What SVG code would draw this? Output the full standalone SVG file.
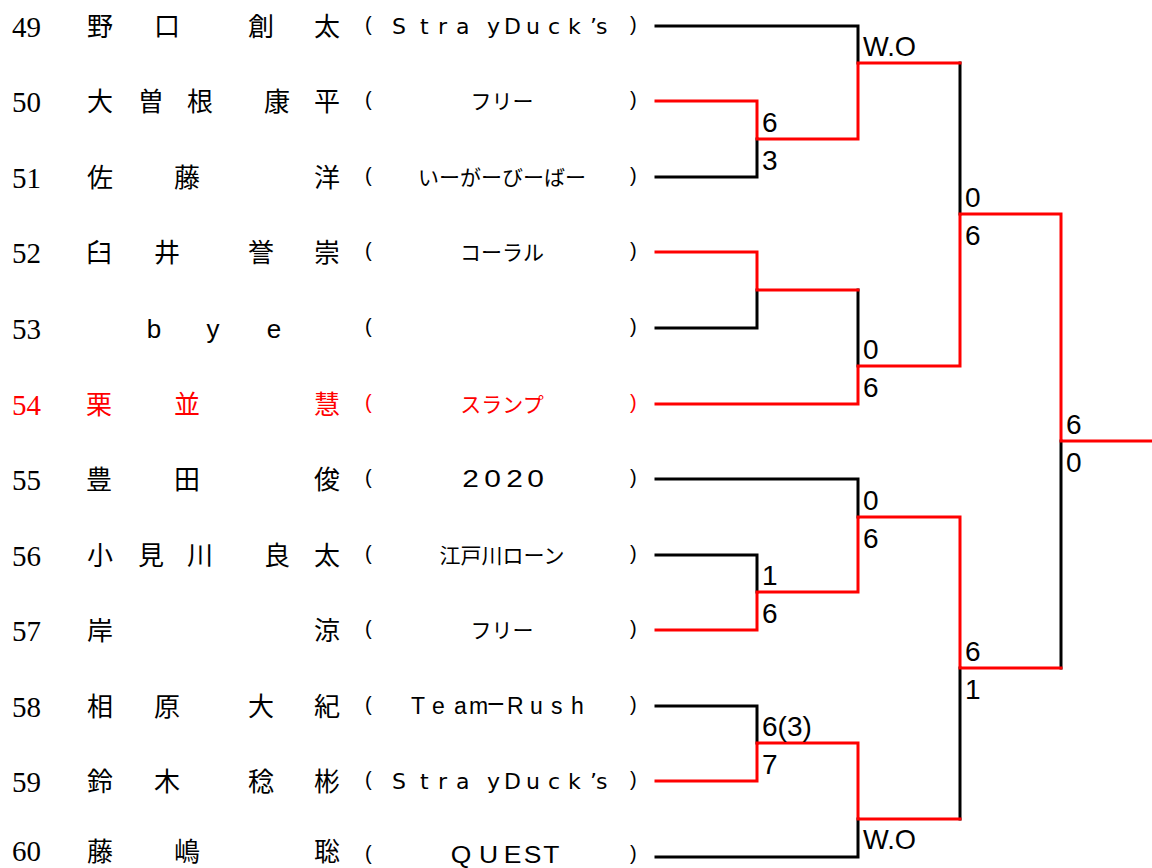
<svg xmlns="http://www.w3.org/2000/svg" width="1152" height="868" viewBox="0 0 1152 868">
<style>
.num{font-family:"Liberation Serif","Times New Roman",serif;font-size:29px;fill:#000}
.nm{font-family:"Noto Sans CJK JP","Noto Sans CJK SC",sans-serif;font-size:26px;fill:#000;text-anchor:middle}
.lat{font-family:"Liberation Sans",Arial,sans-serif;font-size:26px;fill:#000;text-anchor:middle}
.par{font-family:"Liberation Sans",Arial,sans-serif;font-size:20px;fill:#000}
.tm{font-family:"DejaVu Sans",Verdana,sans-serif;font-size:22px;fill:#000}
.tn{font-family:"Liberation Sans",Arial,sans-serif;font-size:23px;fill:#000}
.tk{font-family:"Noto Sans CJK JP","Noto Sans CJK SC",sans-serif;font-size:21px;fill:#000;text-anchor:middle}
.red .num,.red .nm,.red .par,.red .tk{fill:#ff0000}
.sc{font-family:"Liberation Sans",Arial,sans-serif;font-size:28px;fill:#000}
.bk{fill:none;stroke:#000;stroke-width:3;stroke-linecap:square;stroke-linejoin:miter}
.rd{fill:none;stroke:#ff0000;stroke-width:3;stroke-linecap:square;stroke-linejoin:miter}
</style>

<g id="p49">
<text class="num" x="12" y="37">49</text>
<text class="nm" x="100" y="36">野</text><text class="nm" x="167" y="36">口</text><text class="nm" x="261" y="36">創</text><text class="nm" x="327" y="36">太</text>
<text class="par" x="365" y="31">(</text><text class="tm" x="392 420 438 456 487 503 504 526 548 568 590 596" y="34">Stray Duck’s</text><text class="par" x="630" y="31">)</text>
</g>
<g id="p50">
<text class="num" x="12" y="112">50</text>
<text class="nm" x="100" y="111">大</text><text class="nm" x="151" y="111">曽</text><text class="nm" x="200" y="111">根</text><text class="nm" x="277" y="111">康</text><text class="nm" x="327" y="111">平</text>
<text class="par" x="365" y="106">(</text><text class="tk" x="502" y="109">フリー</text><text class="par" x="630" y="106">)</text>
</g>
<g id="p51">
<text class="num" x="12" y="188">51</text>
<text class="nm" x="100" y="187">佐</text><text class="nm" x="187" y="187">藤</text><text class="nm" x="327" y="187">洋</text>
<text class="par" x="365" y="182">(</text><text class="tk" x="502" y="185">いーがーびーばー</text><text class="par" x="630" y="182">)</text>
</g>
<g id="p52">
<text class="num" x="12" y="263">52</text>
<text class="nm" x="99" y="262">臼</text><text class="nm" x="167" y="262">井</text><text class="nm" x="261" y="262">誉</text><text class="nm" x="327" y="262">崇</text>
<text class="par" x="365" y="257">(</text><text class="tk" x="502" y="260">コーラル</text><text class="par" x="630" y="257">)</text>
</g>
<g id="p53">
<text class="num" x="12" y="339">53</text>
<text class="lat" x="154" y="338">b</text><text class="lat" x="213" y="338">y</text><text class="lat" x="274" y="338">e</text>
<text class="par" x="365" y="333">(</text><text class="par" x="630" y="333">)</text>
</g>
<g id="p54" class="red">
<text class="num" x="12" y="415">54</text>
<text class="nm" x="99" y="414">栗</text><text class="nm" x="187" y="414">並</text><text class="nm" x="327" y="414">慧</text>
<text class="par" x="365" y="409">(</text><text class="tk" x="502" y="412">スランプ</text><text class="par" x="630" y="409">)</text>
</g>
<g id="p55">
<text class="num" x="12" y="490">55</text>
<text class="nm" x="99" y="489">豊</text><text class="nm" x="187" y="489">田</text><text class="nm" x="327" y="489">俊</text>
<text class="par" x="365" y="484">(</text><text class="tn" transform="scale(1.3 1)" x="355.5 372.5 389.5 405.5" y="487">2020</text><text class="par" x="630" y="484">)</text>
</g>
<g id="p56">
<text class="num" x="12" y="566">56</text>
<text class="nm" x="100" y="565">小</text><text class="nm" x="151" y="565">見</text><text class="nm" x="200" y="565">川</text><text class="nm" x="277" y="565">良</text><text class="nm" x="327" y="565">太</text>
<text class="par" x="365" y="560">(</text><text class="tk" x="502" y="563">江戸川ローン</text><text class="par" x="630" y="560">)</text>
</g>
<g id="p57">
<text class="num" x="12" y="641">57</text>
<text class="nm" x="100" y="640">岸</text><text class="nm" x="327" y="640">涼</text>
<text class="par" x="365" y="635">(</text><text class="tk" x="502" y="638">フリー</text><text class="par" x="630" y="635">)</text>
</g>
<g id="p58">
<text class="num" x="12" y="717">58</text>
<text class="nm" x="100" y="716">相</text><text class="nm" x="167" y="716">原</text><text class="nm" x="261" y="716">大</text><text class="nm" x="327" y="716">紀</text>
<text class="par" x="365" y="711">(</text><text class="tn" font-size="22" y="714"><tspan x="411 432 454 469">Team</tspan><tspan x="487" font-size="30">−</tspan><tspan x="507 530 551 571">Rush</tspan></text><text class="par" x="630" y="711">)</text>
</g>
<g id="p59">
<text class="num" x="12" y="792">59</text>
<text class="nm" x="100" y="791">鈴</text><text class="nm" x="167" y="791">木</text><text class="nm" x="261" y="791">稔</text><text class="nm" x="327" y="791">彬</text>
<text class="par" x="365" y="786">(</text><text class="tm" x="392 420 438 456 487 503 504 526 548 568 590 596" y="789">Stray Duck’s</text><text class="par" x="630" y="786">)</text>
</g>
<g id="p60">
<text class="num" x="12" y="861">60</text>
<text class="nm" x="100" y="861">藤</text><text class="nm" x="187" y="861">嶋</text><text class="nm" x="327" y="861">聡</text>
<text class="par" x="365" y="860">(</text><text class="tn" transform="scale(1.15 1)" x="392 416.5 438 455.5 472.5" y="863">QUEST</text><text class="par" x="630" y="860">)</text>
</g>

<g id="connectors">
<polyline class="bk" points="656,26 858,26 858,63"/>
<polyline class="bk" points="656,177 757,177 757,139"/>
<polyline class="bk" points="656,328 757,328 757,290"/>
<polyline class="bk" points="858,290 858,366"/>
<polyline class="bk" points="960,63 960,214"/>
<polyline class="bk" points="656,479 858,479 858,517"/>
<polyline class="bk" points="656,555 757,555 757,592"/>
<polyline class="bk" points="656,706 757,706 757,743"/>
<polyline class="bk" points="656,857 858,857 858,819"/>
<polyline class="bk" points="960,668 960,819"/>
<polyline class="bk" points="1061,441 1061,668"/>
<polyline class="rd" points="656,101 757,101 757,139 858,139 858,63 960,63"/>
<polyline class="rd" points="656,252 757,252 757,290 858,290"/>
<polyline class="rd" points="656,404 858,404 858,366 960,366 960,214 1061,214 1061,441 1152,441"/>
<polyline class="rd" points="656,630 757,630 757,592 858,592 858,517 960,517 960,668 1061,668"/>
<polyline class="rd" points="656,781 757,781 757,743 858,743 858,819 960,819"/>
</g>

<g id="scores">
<text class="sc" x="762" y="132">6</text><text class="sc" x="762" y="170">3</text>
<text class="sc" x="863" y="56" textLength="53" lengthAdjust="spacingAndGlyphs">W.O</text>
<text class="sc" x="863" y="359">0</text><text class="sc" x="863" y="397">6</text>
<text class="sc" x="965" y="207">0</text><text class="sc" x="965" y="245">6</text>
<text class="sc" x="863" y="510">0</text><text class="sc" x="863" y="548">6</text>
<text class="sc" x="762" y="585">1</text><text class="sc" x="762" y="623">6</text>
<text class="sc" x="965" y="661">6</text><text class="sc" x="965" y="699">1</text>
<text class="sc" x="762" y="736">6(3)</text><text class="sc" x="762" y="774">7</text>
<text class="sc" x="863" y="849" textLength="53" lengthAdjust="spacingAndGlyphs">W.O</text>
<text class="sc" x="1066" y="434">6</text><text class="sc" x="1066" y="472">0</text>
</g>
</svg>
